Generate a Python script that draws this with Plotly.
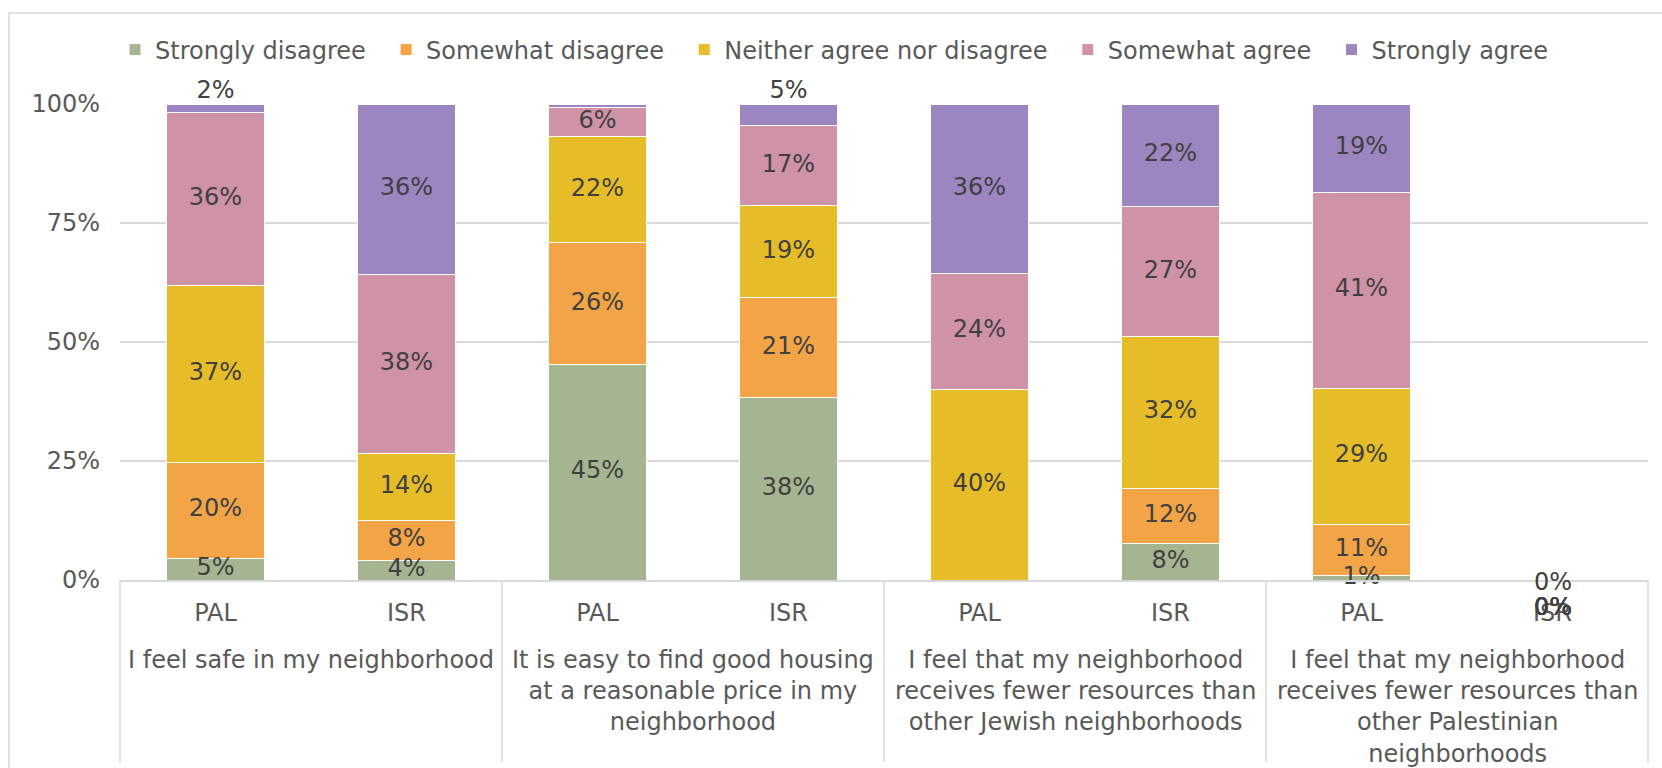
import plotly.graph_objects as go

# ---------------- data ----------------
groups = [
    "I feel safe in my neighborhood",
    "It is easy to find good housing<br>at a reasonable price in my<br>neighborhood",
    "I feel that my neighborhood<br>receives fewer resources than<br>other Jewish neighborhoods",
    "I feel that my neighborhood<br>receives fewer resources than<br>other Palestinian<br>neighborhoods",
]
subgroups = ["PAL", "ISR", "PAL", "ISR", "PAL", "ISR", "PAL", "ISR"]
group_of_bar = [0, 0, 1, 1, 2, 2, 3, 3]

series_names = ["Strongly disagree", "Somewhat disagree", "Neither agree nor disagree",
                "Somewhat agree", "Strongly agree"]
strongly_disagree = [4.6, 4.2, 45.2, 38.3, None, 7.6, 0.9, 0]
somewhat_disagree = [20.1, 8.4, 25.6, 21.0, None, 11.7, 10.7, 0]
neither = [37.2, 14.0, 22.3, 19.4, 40.1, 31.9, 28.7, 0]
somewhat_agree = [36.3, 37.6, 6.2, 16.7, 24.3, 27.2, 41.1, 0]
strongly_agree = [1.8, 35.8, 0.7, 4.6, 35.6, 21.6, 18.6, 0]
series = [strongly_disagree, somewhat_disagree, neither, somewhat_agree, strongly_agree]

colors = ["#A5B592", "#F3A447", "#E7BC29", "#D092A7", "#9C85C0"]

ytick_vals = [0, 25, 50, 75, 100]
ytick_text = ["0%", "25%", "50%", "75%", "100%"]

# ---------------- layout helpers ----------------
W, H = 1662, 768
ML, MR, MT, MB = 120, 14, 104, 188
PW, PH = W - ML - MR, H - MT - MB


def px_x(p):
    return (p - ML) / PW


def px_y(p):
    return (H - MB - p) / PH


FONT = "DejaVu Sans"
FS = 24
LABEL_COLOR = "#404040"
AXIS_COLOR = "#595959"
GRID = "#D9D9D9"
LEGEND_PAD = "\u00a0\u00a0"  # extra spacing between legend entries

x = list(range(len(subgroups)))

fig = go.Figure()
for i, (name, vals) in enumerate(zip(series_names, series)):
    fig.add_trace(go.Bar(
        x=x, y=vals, name=name + LEGEND_PAD,
        marker=dict(color=colors[i], line=dict(color="white", width=1)),
        hoverinfo="skip",
    ))

# data labels (drawn on top of all segments, like Excel)
lab_x, lab_y, lab_t, lab_p = [], [], [], []
annotations = []
n_series = len(series)
for xi in x:
    base = 0.0
    zero_rank = 0
    for i, vals in enumerate(series):
        v = vals[xi]
        if v is None:
            continue
        if v == 0:
            annotations.append(dict(
                x=xi, y=0, xref="x", yref="y", text=f"{round(v)}%", showarrow=False,
                yshift=-2 if zero_rank == 0 else -27,
                font=dict(family=FONT, size=FS, color=LABEL_COLOR)))
            zero_rank += 1
            continue
        if i == n_series - 1 and v < 5:
            lab_y.append(base + v)
            lab_p.append("top center")
        else:
            lab_y.append(base + v / 2)
            lab_p.append("middle center")
        lab_x.append(xi)
        lab_t.append(f"{round(v)}%")
        base += v

fig.add_trace(go.Scatter(
    x=lab_x, y=lab_y, text=lab_t, mode="text", textposition=lab_p,
    textfont=dict(family=FONT, size=FS, color=LABEL_COLOR),
    showlegend=False, hoverinfo="skip", cliponaxis=False,
))

# group (outer category) labels
for g, gtext in enumerate(groups):
    members = [xi for xi in x if group_of_bar[xi] == g]
    cx = sum(members) / len(members)
    annotations.append(dict(
        x=cx, y=0, xref="x", yref="paper", yanchor="top", text=gtext,
        showarrow=False, yshift=-64,
        font=dict(family=FONT, size=FS, color=AXIS_COLOR)))

shapes = []
# dividers between category groups
ng = len(groups)
for k in range(ng + 1):
    shapes.append(dict(type="line", xref="paper", yref="paper",
                       x0=k / ng, x1=k / ng, y0=0, y1=px_y(762),
                       line=dict(color=GRID, width=1.5)))
# chart area border
shapes.append(dict(type="rect", xref="paper", yref="paper",
                   x0=px_x(9), x1=px_x(1680), y0=px_y(780), y1=px_y(13),
                   line=dict(color=GRID, width=1.5), layer="below"))

fig.update_layout(
    width=W, height=H,
    margin=dict(l=ML, r=MR, t=MT, b=MB, autoexpand=False),
    barmode="stack", bargap=0.49,
    paper_bgcolor="white", plot_bgcolor="white",
    font=dict(family=FONT, size=FS, color=AXIS_COLOR),
    legend=dict(orientation="h", x=px_x(115), xanchor="left",
                y=px_y(50), yanchor="middle",
                font=dict(family=FONT, size=FS, color=AXIS_COLOR),
                traceorder="normal"),
    annotations=annotations,
    shapes=shapes,
    xaxis=dict(tickmode="array", tickvals=x, ticktext=subgroups,
               range=[-0.5, len(x) - 0.5], showgrid=False, zeroline=False,
               showline=True, linecolor=GRID, linewidth=1.5, ticks="",
               ticklabelstandoff=10,
               tickfont=dict(family=FONT, size=FS, color=AXIS_COLOR),
               fixedrange=True),
    yaxis=dict(range=[0, 100], tickmode="array", tickvals=ytick_vals, ticktext=ytick_text,
               showgrid=True, gridcolor=GRID, gridwidth=1.5, zeroline=False,
               showline=False, ticks="", ticklabelstandoff=19,
               tickfont=dict(family=FONT, size=FS, color=AXIS_COLOR),
               fixedrange=True),
)

fig.write_html("out.html", config={"displayModeBar": False},
               post_script="document.body.style.margin='0';")
